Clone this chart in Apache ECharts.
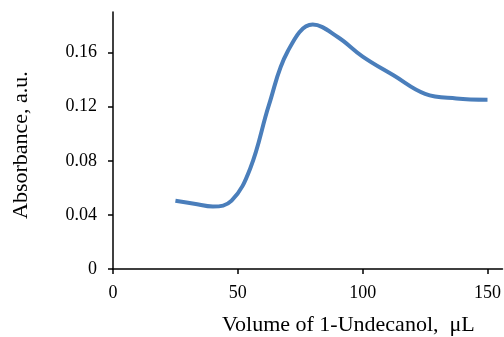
<!DOCTYPE html>
<html>
<head>
<meta charset="utf-8">
<script src="https://cdn.jsdelivr.net/npm/echarts@6/dist/echarts.min.js"></script>
<style>html,body{margin:0;padding:0;background:#fff}#c{width:504px;height:337px}</style>
</head>
<body>
<div id="c"></div>
<script>
const volume = [25,32.5,40,47.5,55,62.5,70,80,90,100,112.5,125,137.5,150];
const absorbance = [0.0504,0.0483,0.0462,0.0505,0.0745,0.1215,0.1610,0.1807,0.1715,0.1570,0.1430,0.1295,0.1261,0.1252];
const xTicks = [0,50,100,150];
const yTicks = [0,0.04,0.08,0.12,0.16];
const xTitle = 'Volume of 1-Undecanol,  μL';
const yTitle = 'Absorbance, a.u.';

const font = 'Liberation Serif';
const chart = echarts.init(document.getElementById('c'));
chart.setOption({
  animation:false,
  grid:{left:113,right:1,top:12,bottom:68},
  xAxis:{type:'value',min:0,max:156,
    axisLine:{lineStyle:{color:'#000',width:1.5}},
    axisTick:{show:true,length:5,customValues:xTicks,lineStyle:{color:'#000',width:1.5}},
    axisLabel:{customValues:xTicks,margin:15,fontFamily:font,fontSize:18,color:'#000'},
    splitLine:{show:false}},
  yAxis:{type:'value',min:0,max:0.19,
    axisLine:{show:true,lineStyle:{color:'#000',width:1.5}},
    axisTick:{show:true,length:5,customValues:yTicks,lineStyle:{color:'#000',width:1.5}},
    axisLabel:{customValues:yTicks,margin:16,fontFamily:font,fontSize:18,color:'#000',
      formatter:v=>v===0?'0':v.toFixed(2)},
    splitLine:{show:false}},
  graphic:[
    {type:'text',left:222,top:314,style:{text:xTitle,font:'22px "Liberation Serif"',fill:'#000'}},
    {type:'text',rotation:Math.PI/2,x:10,y:219,style:{text:yTitle,font:'22px "Liberation Serif"',fill:'#000'}}
  ],
  series:[{type:'line',data:volume.map((v,i)=>[v,absorbance[i]]),smooth:0.4,showSymbol:false,
    lineStyle:{color:'#4a7ebb',width:4}}]
});
</script>
</body>
</html>
